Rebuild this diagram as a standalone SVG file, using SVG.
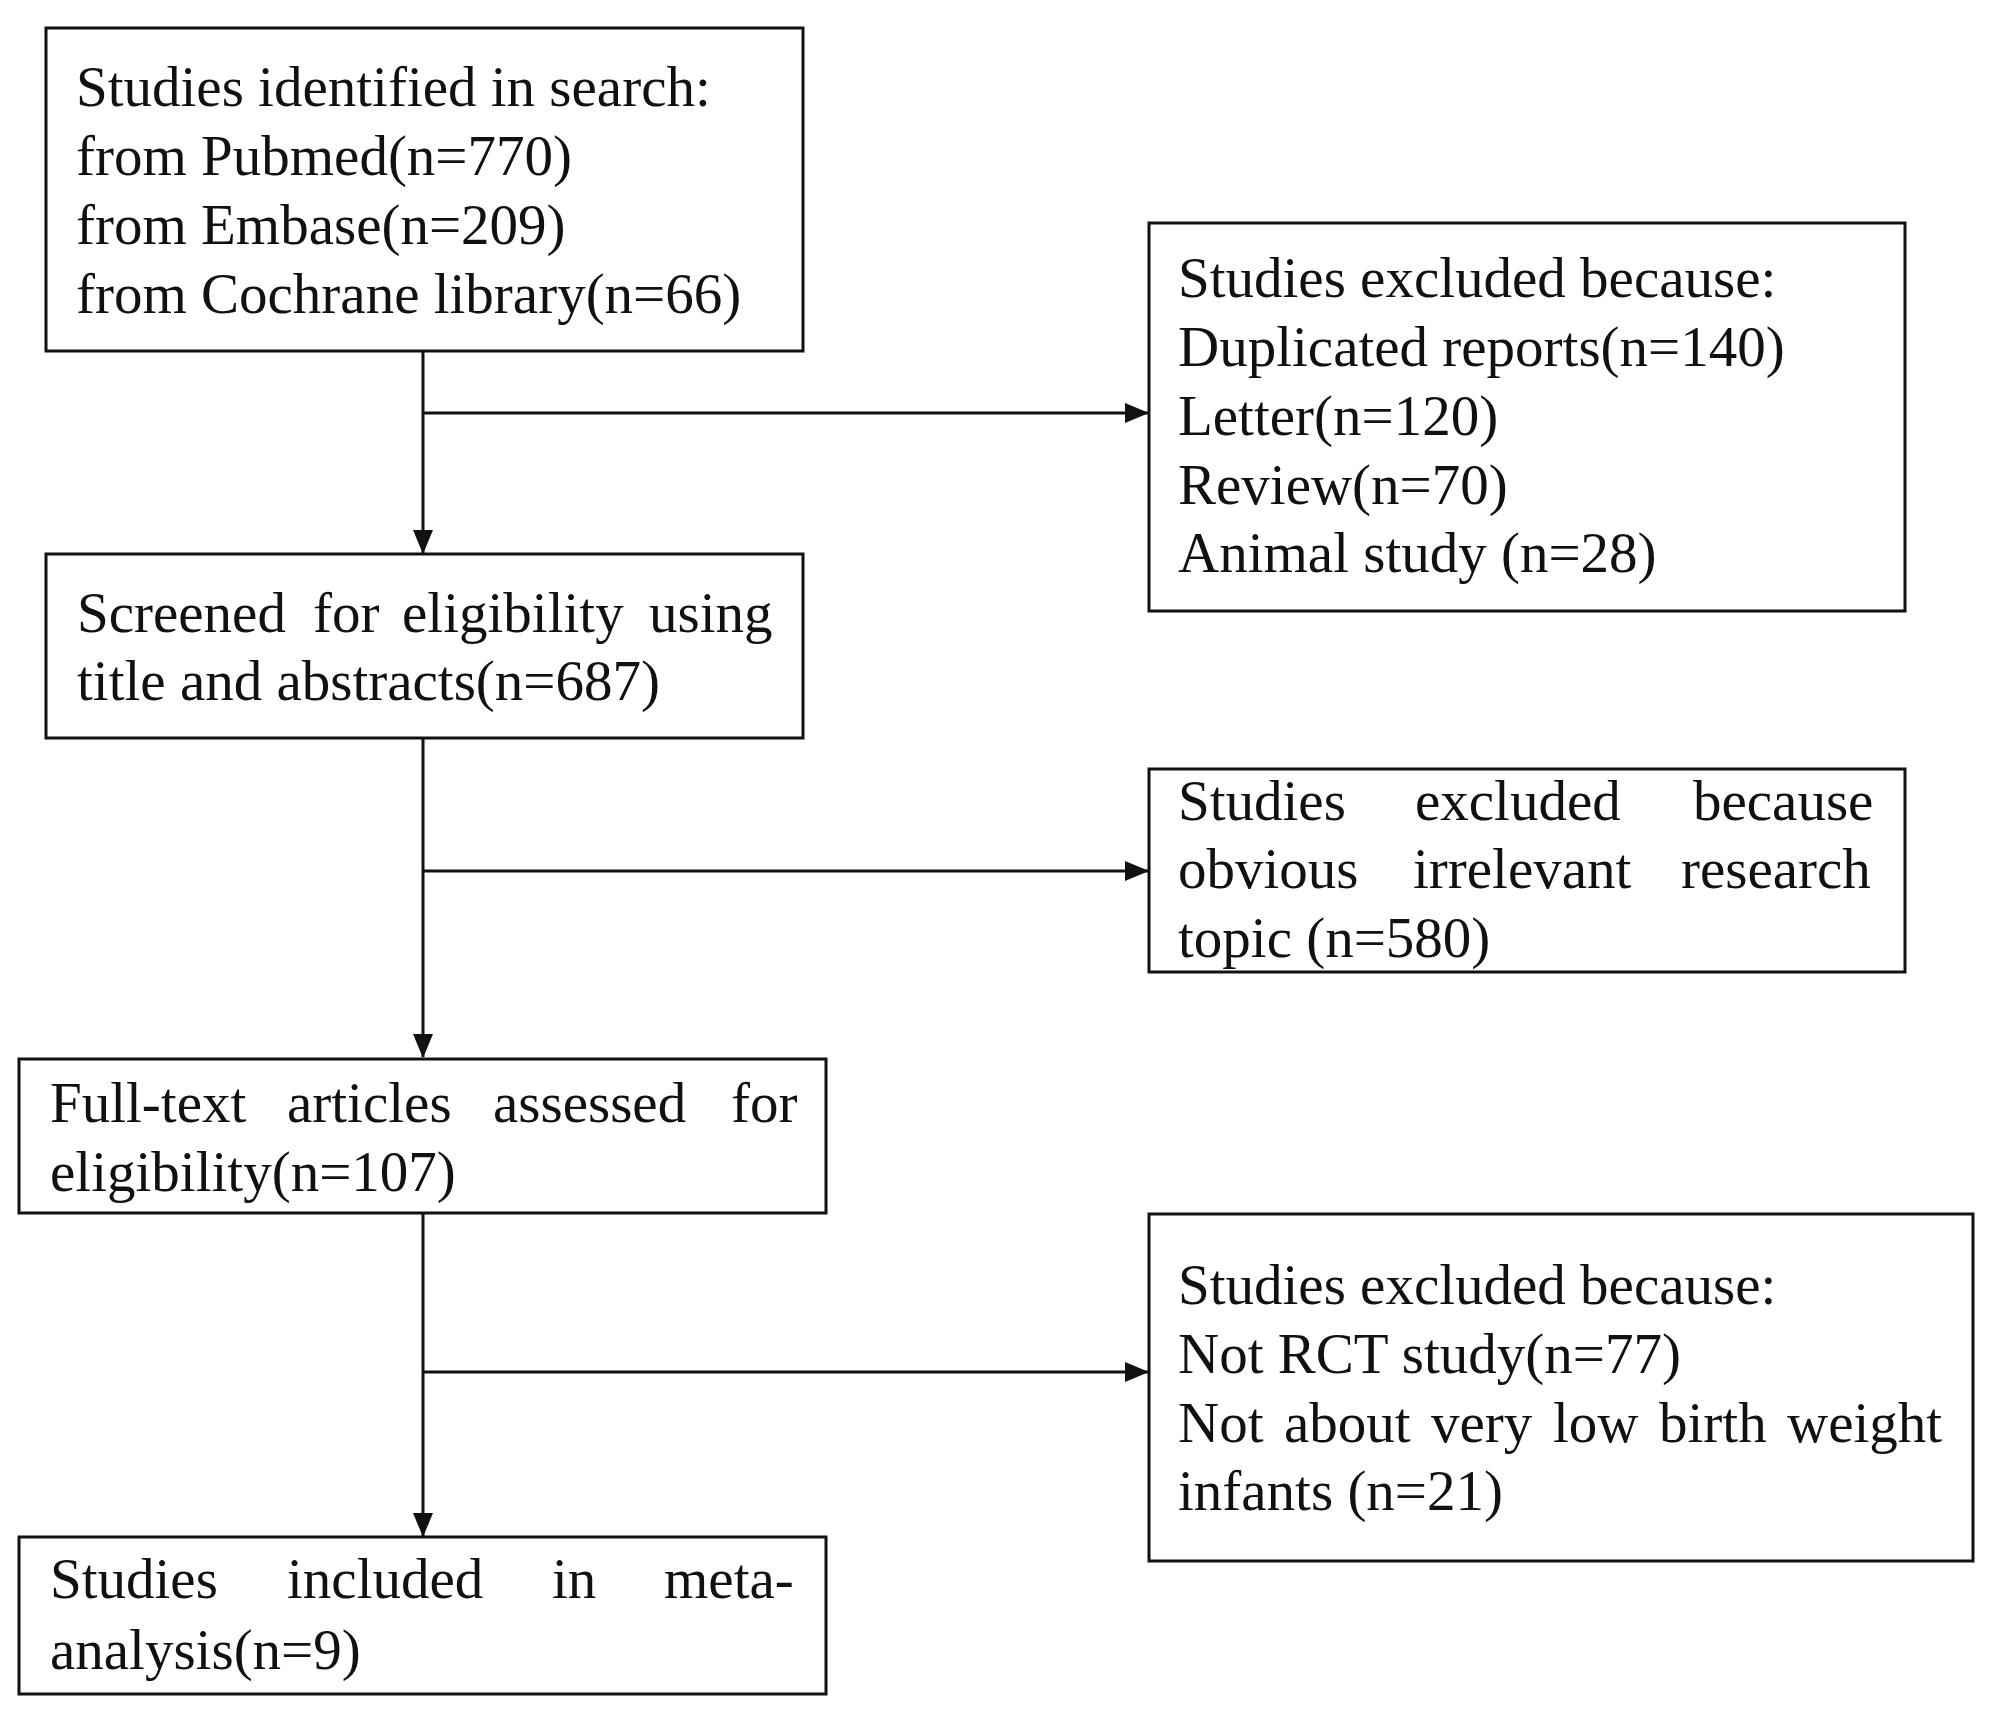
<svg xmlns="http://www.w3.org/2000/svg" width="2008" height="1714" viewBox="0 0 2008 1714">
<style>
rect.box{fill:#fff;stroke:#111;stroke-width:3}
text{font-family:"Liberation Serif","Times New Roman",serif;font-size:57px;fill:#111}
.conn line{stroke:#111;stroke-width:3}
</style>
<defs>
<marker id="ah" markerUnits="userSpaceOnUse" markerWidth="24" markerHeight="20" refX="23" refY="10" orient="auto">
<path d="M0,0 L24,10 L0,20 Z" fill="#111"/>
</marker>
</defs>
<rect width="2008" height="1714" fill="#fff"/>
<g id="connectors" class="conn">
<line x1="423" y1="351" x2="423" y2="553" marker-end="url(#ah)"/>
<line x1="423" y1="738" x2="423" y2="1057" marker-end="url(#ah)"/>
<line x1="423" y1="1213" x2="423" y2="1536" marker-end="url(#ah)"/>
<line x1="423" y1="413" x2="1148" y2="413" marker-end="url(#ah)"/>
<line x1="423" y1="871" x2="1148" y2="871" marker-end="url(#ah)"/>
<line x1="423" y1="1372" x2="1148" y2="1372" marker-end="url(#ah)"/>
</g>
<g id="n1">
<rect class="box" x="46" y="28" width="757" height="323"/>
<text x="76" y="106">Studies identified in search:</text>
<text x="76" y="175">from Pubmed(n=770)</text>
<text x="76" y="244">from Embase(n=209)</text>
<text x="76" y="313">from Cochrane library(n=66)</text>
</g>
<g id="n2">
<rect class="box" x="1149" y="223" width="756" height="388"/>
<text x="1178" y="297">Studies excluded because:</text>
<text x="1178" y="366">Duplicated reports(n=140)</text>
<text x="1178" y="435">Letter(n=120)</text>
<text x="1178" y="504">Review(n=70)</text>
<text x="1178" y="572">Animal study (n=28)</text>
</g>
<g id="n3">
<rect class="box" x="46" y="554" width="757" height="184"/>
<text y="632"><tspan x="77">Screened</tspan><tspan x="313">for</tspan><tspan x="402">eligibility</tspan><tspan x="649">using</tspan></text>
<text x="77" y="700">title and abstracts(n=687)</text>
</g>
<g id="n4">
<rect class="box" x="1149" y="769" width="756" height="203"/>
<text y="820"><tspan x="1178">Studies</tspan><tspan x="1415">excluded</tspan><tspan x="1693">because</tspan></text>
<text y="888"><tspan x="1178">obvious</tspan><tspan x="1413">irrelevant</tspan><tspan x="1681">research</tspan></text>
<text x="1178" y="957">topic (n=580)</text>
</g>
<g id="n5">
<rect class="box" x="19" y="1059" width="807" height="154"/>
<text y="1122"><tspan x="50">Full-text</tspan><tspan x="287">articles</tspan><tspan x="493">assessed</tspan><tspan x="731">for</tspan></text>
<text x="50" y="1191">eligibility(n=107)</text>
</g>
<g id="n6">
<rect class="box" x="1149" y="1214" width="824" height="347"/>
<text x="1178" y="1304">Studies excluded because:</text>
<text x="1178" y="1373">Not RCT study(n=77)</text>
<text y="1442"><tspan x="1178">Not</tspan><tspan x="1284">about</tspan><tspan x="1431">very</tspan><tspan x="1553">low</tspan><tspan x="1659">birth</tspan><tspan x="1787">weight</tspan></text>
<text x="1178" y="1510">infants (n=21)</text>
</g>
<g id="n7">
<rect class="box" x="19" y="1537" width="807" height="157"/>
<text y="1598"><tspan x="50">Studies</tspan><tspan x="287">included</tspan><tspan x="552">in</tspan><tspan x="664">meta-</tspan></text>
<text x="50" y="1669">analysis(n=9)</text>
</g>
</svg>
